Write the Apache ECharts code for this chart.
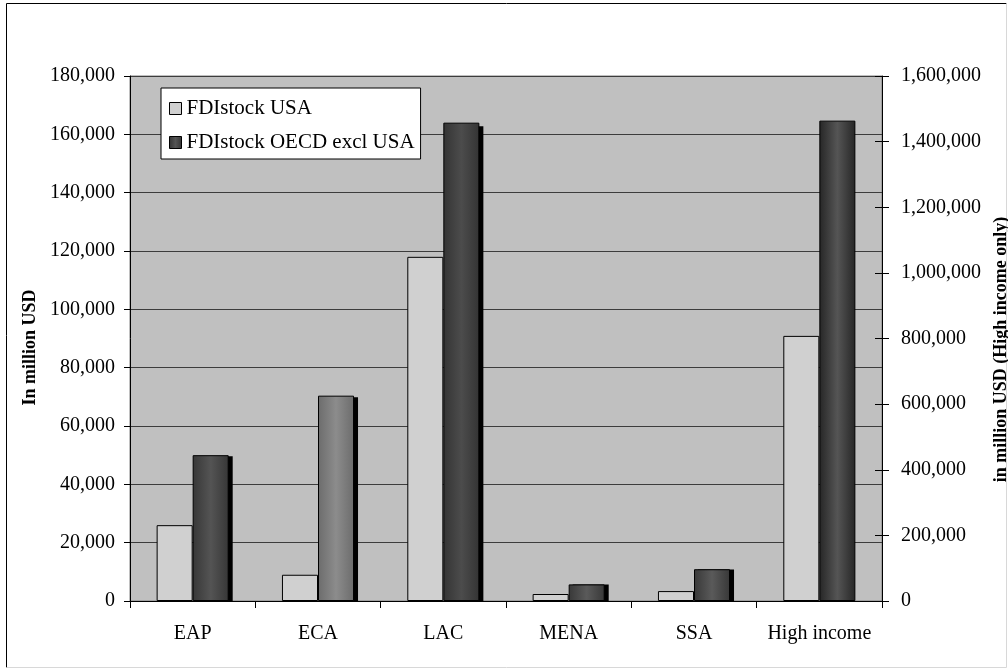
<!DOCTYPE html>
<html>
<head>
<meta charset="utf-8">
<script src="https://cdn.jsdelivr.net/npm/echarts@6/dist/echarts.min.js"></script>
<style>
html,body{margin:0;padding:0;background:#fff;}
#chart{width:1008px;height:669px;}
</style>
</head>
<body>
<div id="chart"></div>
<script>
// ---- data ----
var categories = ['EAP', 'ECA', 'LAC', 'MENA', 'SSA', 'High income'];
// left axis (regions), in million USD
var usaRegions  = [26000, 9000, 118000, 2400, 3400, null];
var oecdRegions = [50000, 70400, 164000, 5700, 10900, null];
// right axis (high income only), in million USD
var usaHigh  = [null, null, null, null, null, 808000];
var oecdHigh = [null, null, null, null, null, 1464000];
var leftTicks  = {min: 0, max: 180000, interval: 20000};
var rightTicks = {min: 0, max: 1600000, interval: 200000};
var seriesNames = ['FDIstock USA', 'FDIstock OECD excl USA'];

// ---- styles (not data) ----
var oecdShades = [['#373737','#545454'], ['#6c6c6c','#8c8c8c'], ['#343434','#4c4c4c'],
                  ['#383838','#5a5a5a'], ['#383838','#5a5a5a'], ['#262626','#555555']];
function grad(edge, mid) {
  return new echarts.graphic.LinearGradient(0, 0, 1, 0, [
    {offset: 0, color: edge}, {offset: 0.5, color: mid}, {offset: 1, color: edge}
  ]);
}
function styled(values) {
  return values.map(function (v, i) {
    if (v == null) return null;
    return {value: v, itemStyle: {color: grad(oecdShades[i][0], oecdShades[i][1])}};
  });
}
function fmt(v) { return Number(v).toLocaleString('en-US'); }

var FONT = 'Liberation Serif';
var chart = echarts.init(document.getElementById('chart'), null, {renderer: 'canvas'});
var usaStyle = {color: '#d0d0d0', borderColor: '#000', borderWidth: 1};
var oecdBase = {color: grad('#333333', '#555555'), borderColor: '#000', borderWidth: 1};
var BAR = {barCategoryGap: '42.5%', barGap: '0%'};

chart.setOption({
  animation: false,
  backgroundColor: '#fff',
  textStyle: {fontFamily: FONT, color: '#000'},
  grid: [
    {left: 130, right: 126, top: 76, bottom: 68, show: true,
     backgroundColor: '#c0c0c0', borderColor: '#808080', borderWidth: 1,
     outerBoundsMode: 'none', containLabel: false},
    // offset grid used only for the drop shadows of the OECD bars
    {left: 134, right: 122, top: 80, bottom: 68, show: false,
     outerBoundsMode: 'none', containLabel: false}
  ],
  legend: {
    data: seriesNames, orient: 'vertical', left: 161, top: 88,
    padding: [10, 6, 6, 8], itemGap: 13, itemWidth: 12, itemHeight: 12,
    icon: 'rect', backgroundColor: '#fff', borderColor: '#000', borderWidth: 1,
    borderRadius: 0,
    itemStyle: {borderColor: '#000', borderWidth: 1},
    textStyle: {fontFamily: FONT, fontSize: 21, color: '#000'}
  },
  xAxis: [
    {
      type: 'category', data: categories, gridIndex: 0,
      axisLine: {lineStyle: {color: '#000', width: 1}},
      axisTick: {show: true, length: 7, lineStyle: {color: '#000'}},
      axisLabel: {fontFamily: FONT, fontSize: 20, color: '#000', margin: 23, interval: 0},
      splitLine: {show: false}
    },
    {
      type: 'category', data: categories, gridIndex: 1, show: false
    }
  ],
  yAxis: [
    {
      type: 'value', position: 'left', min: leftTicks.min, max: leftTicks.max, interval: leftTicks.interval,
      name: 'In million USD', nameLocation: 'middle', nameGap: 83,
      nameTextStyle: {fontFamily: FONT, fontSize: 18, fontWeight: 'bold', color: '#000', padding: [0, 18, 0, 0]},
      axisLine: {show: true, lineStyle: {color: '#000'}},
      axisTick: {show: true, length: 6, lineStyle: {color: '#000'}},
      axisLabel: {fontFamily: FONT, fontSize: 20, color: '#000', margin: 15, formatter: fmt},
      splitLine: {show: true, lineStyle: {color: '#3c3c3c', width: 1}}
    },
    {
      type: 'value', position: 'right', min: rightTicks.min, max: rightTicks.max, interval: rightTicks.interval,
      name: 'in million USD (High income only)', nameLocation: 'middle', nameGap: 100,
      nameTextStyle: {fontFamily: FONT, fontSize: 18, fontWeight: 'bold', color: '#000', padding: [0, 22, 0, 0]},
      axisLine: {show: true, lineStyle: {color: '#000'}},
      axisTick: {show: true, length: 7, lineStyle: {color: '#000'}},
      axisLabel: {fontFamily: FONT, fontSize: 20, color: '#000', margin: 19, formatter: fmt},
      splitLine: {show: false}
    },
    {
      type: 'value', position: 'right', min: rightTicks.min, max: rightTicks.max, interval: rightTicks.interval,
      axisLine: {show: false},
      axisTick: {show: true, inside: true, length: 7, lineStyle: {color: '#000'}},
      axisLabel: {show: false},
      splitLine: {show: false}
    },
    {
      type: 'value', gridIndex: 1, min: leftTicks.min, max: leftTicks.max, interval: leftTicks.interval, show: false
    }
  ],
  series: [
    // shadows (drawn behind the real bars, in the offset grid)
    Object.assign({name: 'shadow-slot', type: 'bar', xAxisIndex: 1, yAxisIndex: 3, data: usaRegions,
     z: 1, silent: true, itemStyle: {color: 'rgba(0,0,0,0)'}}, BAR),
    Object.assign({name: 'shadow', type: 'bar', xAxisIndex: 1, yAxisIndex: 3, data: oecdRegions,
     z: 1, silent: true, itemStyle: {color: '#000'}}, BAR),
    // real bars
    Object.assign({name: seriesNames[0], type: 'bar', yAxisIndex: 0, stack: 'usa', data: usaRegions,
     itemStyle: usaStyle}, BAR),
    Object.assign({name: seriesNames[1], type: 'bar', yAxisIndex: 0, stack: 'oecd', data: styled(oecdRegions),
     itemStyle: oecdBase}, BAR),
    Object.assign({name: seriesNames[0], type: 'bar', yAxisIndex: 1, stack: 'usa', data: usaHigh,
     itemStyle: usaStyle}, BAR),
    Object.assign({name: seriesNames[1], type: 'bar', yAxisIndex: 1, stack: 'oecd', data: styled(oecdHigh),
     itemStyle: oecdBase}, BAR)
  ],
  graphic: [
    {type: 'line', shape: {x1: 6.5, y1: 3.5, x2: 1006.5, y2: 3.5}, style: {stroke: '#000', lineWidth: 1}, silent: true},
    {type: 'line', shape: {x1: 6.5, y1: 3.5, x2: 6.5, y2: 667.5}, style: {stroke: '#000', lineWidth: 1}, silent: true},
    {type: 'line', shape: {x1: 6.5, y1: 667.5, x2: 1006.5, y2: 667.5}, style: {stroke: '#d8d8d8', lineWidth: 1}, silent: true},
    {type: 'line', shape: {x1: 1006.5, y1: 3.5, x2: 1006.5, y2: 667.5}, style: {stroke: '#d8d8d8', lineWidth: 1}, silent: true}
  ]
});
</script>
</body>
</html>
